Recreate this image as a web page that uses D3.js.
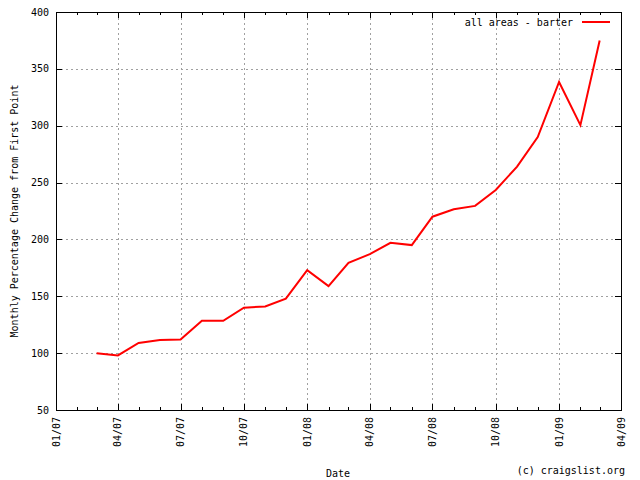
<!DOCTYPE html>
<html>
<head>
<meta charset="utf-8">
<script src="https://cdn.jsdelivr.net/npm/d3@7"></script>
<style>
  body { margin: 0; background: #fff; }
  svg { display: block; }
  text { font-family: "DejaVu Sans Mono", monospace; font-size: 10px; fill: #000; }
</style>
</head>
<body>
<svg id="chart" width="640" height="480"></svg>
<script>
// monthly points, first of each month
const months = ['2007-03', '2007-04', '2007-05', '2007-06', '2007-07', '2007-08', '2007-09',
  '2007-10', '2007-11', '2007-12', '2008-01', '2008-02', '2008-03', '2008-04', '2008-05',
  '2008-06', '2008-07', '2008-08', '2008-09', '2008-10', '2008-11', '2008-12', '2009-01',
  '2009-02', '2009-03']
const barter = [100, 98, 109, 111.5, 112, 128.5, 128.5, 140, 141, 148, 173, 159, 179.5,
  187, 197, 195, 220, 226.5, 229.5, 243.5, 264, 290, 338.5, 300.5, 375]
const yTicks = [50, 100, 150, 200, 250, 300, 350, 400]
const seriesName = 'all areas - barter'

const parse = d3.timeParse('%Y-%m')
const data = months.map((m, i) => ({ date: parse(m), value: barter[i] }))

const svg = d3.select('#chart')
const plotL = 56, plotR = 621, plotT = 12, plotB = 410

const x = d3.scaleTime()
  .domain([new Date(2007, 0, 1), new Date(2009, 3, 1)])
  .range([plotL, plotR])
const y = d3.scaleLinear().domain([50, 400]).range([plotB, plotT])

const quarters = x.ticks(d3.timeMonth.every(3))
const allMonths = x.ticks(d3.timeMonth.every(1))

// grid
const grid = svg.append('g').attr('stroke', '#a0a0a0').attr('stroke-dasharray', '2,3')
  .attr('shape-rendering', 'crispEdges')
grid.selectAll('line.gx')
  .data(quarters.slice(1, -1))
  .enter().append('line').classed('gx', true)
  .attr('x1', d => Math.round(x(d)) + 0.5).attr('x2', d => Math.round(x(d)) + 0.5)
  .attr('y1', plotB).attr('y2', plotT)
grid.selectAll('line.gy')
  .data(yTicks.slice(1, -1))
  .enter().append('line').classed('gy', true)
  .attr('y1', d => Math.round(y(d)) + 0.5).attr('y2', d => Math.round(y(d)) + 0.5)
  .attr('x1', plotL).attr('x2', plotR)

// ticks
const ticks = svg.append('g').attr('stroke', '#000').attr('shape-rendering', 'crispEdges')
allMonths.forEach(d => {
  const major = d.getMonth() % 3 === 0
  const len = major ? 6 : 3
  const px = Math.round(x(d)) + 0.5
  ticks.append('line').attr('x1', px).attr('x2', px).attr('y1', plotB).attr('y2', plotB - len)
  ticks.append('line').attr('x1', px).attr('x2', px).attr('y1', plotT).attr('y2', plotT + len)
})
yTicks.forEach(v => {
  const py = Math.round(y(v)) + 0.5
  ticks.append('line').attr('x1', plotL).attr('x2', plotL + 6).attr('y1', py).attr('y2', py)
  ticks.append('line').attr('x1', plotR).attr('x2', plotR - 6).attr('y1', py).attr('y2', py)
})

// border
svg.append('rect')
  .attr('x', plotL + 0.5).attr('y', plotT + 0.5)
  .attr('width', plotR - plotL).attr('height', plotB - plotT)
  .attr('fill', 'none').attr('stroke', '#000').attr('shape-rendering', 'crispEdges')

// tick labels
svg.selectAll('text.ylab')
  .data(yTicks)
  .enter().append('text').classed('ylab', true)
  .attr('x', 49).attr('y', d => y(d))
  .attr('dy', '0.35em').attr('text-anchor', 'end')
  .text(d => d)

const fmt = d3.timeFormat('%m/%y')
svg.selectAll('text.xlab')
  .data(quarters)
  .enter().append('text').classed('xlab', true)
  .attr('transform', d => `translate(${x(d)},417) rotate(-90)`)
  .attr('dy', '0.35em').attr('text-anchor', 'end')
  .text(d => fmt(d))

// axis titles
svg.append('text')
  .attr('transform', `translate(14,${(plotT + plotB) / 2}) rotate(-90)`)
  .attr('dy', '0.35em').attr('text-anchor', 'middle')
  .text('Monthly Percentage Change from First Point')
svg.append('text').attr('x', 338).attr('y', 473).attr('dy', '0.35em')
  .attr('text-anchor', 'middle').text('Date')
svg.append('text').attr('x', 625).attr('y', 470).attr('dy', '0.35em')
  .attr('text-anchor', 'end').text('(c) craigslist.org')

// series
const line = d3.line().x(d => x(d.date)).y(d => y(d.value))
svg.append('path').datum(data)
  .attr('d', line)
  .attr('fill', 'none').attr('stroke', '#ff0000').attr('stroke-width', 2)
  .attr('stroke-linejoin', 'miter')

// legend
svg.append('text').attr('x', 573).attr('y', 22).attr('dy', '0.35em')
  .attr('text-anchor', 'end').text(seriesName)
svg.append('line').attr('x1', 582).attr('x2', 610).attr('y1', 22).attr('y2', 22)
  .attr('stroke', '#ff0000').attr('stroke-width', 2)
</script>
</body>
</html>
